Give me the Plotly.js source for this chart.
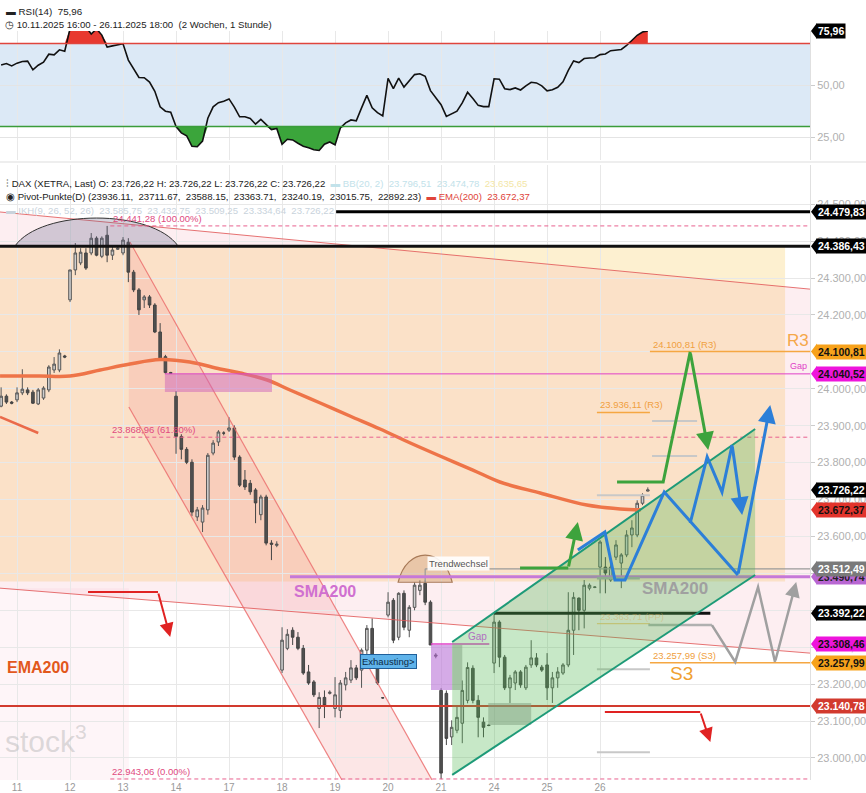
<!DOCTYPE html>
<html><head><meta charset="utf-8">
<script src="https://cdn.plot.ly/plotly-3.0.1.min.js"></script>
<style>html,body{margin:0;padding:0;background:#fff}#chart{width:866px;height:793px}</style>
</head><body><div id="chart"></div>
<script>
// ---- data ----
const dayLabels   = ['11','12','13','14','17','18','19','20','21','24','25','26'];
const dayStartBar = [3,13,23,33,43,53,63,73,83,93,103,113];

const open = [23953,23980,23964,23970,23989,23997,23991,23959,23975,23997,
 24051,24051,24089,24241,24322,24341,24368,24368,24408,24359,
 24416,24362,24378,24368,24397,24316,24268,24241,24249,24227,
 24154,24087,24044,23980,23871,23836,23801,23653,23639,23672,
 23826,23856,23880,23888,23894,23815,23753,23744,23726,23659,
 23707,23582,23576,23238,23297,23346,23327,23297,23233,23206,
 23134,23164,23175,23134,23129,23198,23211,23244,23238,23292,
 23351,23252,23163,23387,23427,23327,23446,23346,23408,23454,
 23473,23422,23279,23183,23175,23057,23075,23094,23156,23243,
 23156,23097,23089,23257,23368,23273,23190,23203,23233,23190,
 23252,23271,23246,23252,23190,23217,23230,23252,23346,23433,
 23400,23460,23462,23517,23517,23482,23544,23528,23550,23604,
 23604,23690,23723];
const high = [24004,23985,23967,24004,24053,24004,23997,24002,24007,24064,
 24086,24107,24092,24322,24395,24381,24381,24422,24413,24413,
 24441.28,24384,24384,24411,24408,24322,24273,24254,24254,24232,
 24178,24092,24046,23994,23877,23842,23809,23680,23685,23826,
 23861,23888,23885,23923,23901,23820,23780,23753,23731,23713,
 23713,23590,23587,23354,23349,23354,23341,23306,23252,23211,
 23178,23183,23183,23219,23211,23233,23265,23252,23297,23360,
 23378,23257,23165,23449,23433,23449,23454,23414,23476,23481,
 23481,23427,23284,23189,23183,23102,23143,23210,23259,23251,
 23170,23110,23091,23392.22,23373,23279,23225,23238,23238,23252,
 23319,23284,23252,23284,23233,23246,23257,23449,23449,23435,
 23482,23473,23465,23590,23544,23536,23590,23555,23617,23644,
 23698,23717,23733];
const low = [23950,23959,23958,23964,23983,23983,23959,23956,23970,23991,
 24043,24045,24083,24235,24308,24335,24322,24362,24359,24354,
 24343,24349,24376,24362,24289,24262,24200,24219,24219,24151,
 24079,24041,24041,23824,23809,23796,23655,23642,23612,23659,
 23820,23845,23874,23883,23807,23734,23726,23713,23636,23644,
 23576,23536,23571,23230,23292,23306,23292,23225,23198,23165,
 23081,23108,23172,23110,23108,23183,23203,23211,23190,23262,
 23262,23198,23160,23381,23311,23319,23346,23327,23400,23441,
 23414,23306,23270,22943.06,23035,23035,23067,23040,23148,23148,
 23056,23056,23086,23230,23246,23184,23149,23184,23190,23184,
 23244,23246,23233,23157,23149,23190,23225,23246,23279,23346,
 23351,23454,23460,23446,23446,23477,23536,23460,23544,23571,
 23598,23685,23722];
const close = [23980,23964,23961,23989,23999,23989,23961,23997,24002,24059,
 24067,24097,24086,24322,24368,24370,24327,24408,24362,24408,
 24362,24376,24381,24403,24316,24268,24214,24249,24227,24154,
 24079,24044,24042,23871,23836,23801,23666,23672,23677,23820,
 23853,23883,23880,23894,23815,23739,23734,23721,23691,23707,
 23582,23579,23579,23319,23335,23327,23297,23230,23203,23171,
 23164,23142,23178,23171,23203,23217,23244,23217,23292,23351,
 23265,23203,23163,23422,23319,23446,23354,23408,23468,23468,
 23422,23306,23276,22959,23053,23083,23110,23183,23245,23156,
 23110,23083,23088,23368,23273,23190,23217,23233,23198,23246,
 23271,23252,23238,23190,23217,23233,23252,23346,23435,23400,
 23468,23468,23463,23585,23501,23517,23577,23550,23604,23623,
 23690,23712,23726.22];

const rsi = [59.6,60.3,59.2,60.5,61.3,61.5,57.3,59.5,61,64.8,
 64.5,66.9,66.2,77,80,79,78,74.5,77,74,
 68.2,68.8,69.2,69.8,62,57.5,53.6,53.5,51.4,47,
 39.5,37.4,36.9,30,27,25.6,20.5,20.3,23,34,
 39.5,41.5,42.2,43.3,39.4,34.7,34.7,33.9,31.2,33.5,
 30.8,28.6,29.1,21.5,23.9,23.6,22,20.6,19.8,18.9,
 18.5,21.5,22.6,21.2,29.3,31.8,33.2,32.8,39,45,
 39,36.7,35.1,53.2,48.3,53.3,49,51.9,55,55.4,
 54.2,47.3,44,40.5,34.9,36.3,37.4,41.4,46.5,43.5,
 40.2,39.6,39.6,53,52.8,48.2,47.8,48.6,47.6,49.6,
 51.3,51,49.6,47.2,47.7,48.9,51.5,57,61.6,60.8,
 62.7,63,63.1,64.6,64.9,66.5,66.9,67.1,69,71.5,
 73.9,75.5,75.96];

const emaBar = [-0.2,7.3,13.0,18.7,24.3,30.0,35.6,41.3,45.1,50.2,54.5,60.2,65.8,71.5,77.2,82.8,89.0,94.1,101.7,110.5,116.8,120.7];
const emaVal = [24034.7,24034.7,24034.7,24051,24067.2,24079.4,24072.6,24053.7,24042.8,24023.9,23996.8,23961.6,23926.4,23891.2,23853.2,23818,23780,23747.6,23717.8,23685.3,23674.5,23672.37];

const priceTicks = [23000,23100,23200,23300,23400,23500,23600,23700,23800,23900,24000,24100,24200,24300,24400,24500];

const tagText  = ['24.479,83','24.386,43','24.100,81','24.040,52','23.726,22','23.672,37','23.490,74','23.512,49','23.392,22','23.308,46','23.257,99','23.140,78'];
const tagValue = [24479.83,24386.43,24100.81,24040.52,23726.22,23672.37,23490.74,23512.49,23392.22,23308.46,23257.99,23140.78];
const tagBg    = ['#000','#000','#f7a21b','#ee14dc','#000','#e2342c','#b866d2','#7a7a7a','#000','#ee14dc','#f7a21b','#d23a2e'];
const tagFg    = ['#fff','#fff','#111','#111','#fff','#111','#222','#fff','#fff','#111','#111','#fff'];

// ---- geometry ----
const XMIN=-0.21, XMAX=152.6;
const YMIN=22940.3, YMAX=24606.3;
const MAIN_DOM=[0,0.788462], RSI_DOM=[0.794872,0.960256];
const RMIN=13.94, RMAX=75.96;
const idx = open.map((_,i)=>i);
const FONT = 'Arial, "Liberation Sans", sans-serif';

const shapes=[], ann=[];
const L=(x0,y0,x1,y1,color,width,dash,layer)=>shapes.push({type:'line',xref:'x',yref:'y',x0,y0,x1,y1,line:{color,width,dash:dash||'solid'},layer:layer||'above'});
const R=(x0,y0,x1,y1,fill,layer)=>shapes.push({type:'rect',xref:'x',yref:'y',x0,y0,x1,y1,fillcolor:fill,line:{width:0},layer:layer||'above'});
const P=(pts,closed,fill,color,width,layer)=>shapes.push({type:'path',xref:'x',yref:'y',
  path:'M '+pts.map(p=>p[0]+','+p[1]).join(' L ')+(closed?' Z':''),
  fillcolor:fill||'rgba(0,0,0,0)',line:{color:color||'rgba(0,0,0,0)',width:width||0},layer:layer||'above'});
const T=(x,y,text,o)=>ann.push(Object.assign({x,y,xref:'x',yref:'y',text,showarrow:false,xanchor:'left',yanchor:'middle',font:{family:FONT,size:10,color:'#333'}},o||{}));
const ARR=(pts,color,width,hs)=>{ // polyline with arrow head at last point
  P(pts.slice(0,-1),false,null,color,width,'above');
  const a=pts[pts.length-2], b=pts[pts.length-1];
  ann.push({x:b[0],y:b[1],ax:a[0],ay:a[1],xref:'x',yref:'y',axref:'x',ayref:'y',showarrow:true,arrowhead:2,arrowsize:hs||1.2,arrowwidth:width,arrowcolor:color,text:'',standoff:0});
};

// backgrounds (below grid)
R(XMIN,23478,147.9,24386.43,'#fdf0d0','below');
P([[XMIN,24479],[XMAX,24270],[XMAX,23284],[XMIN,23460]],true,'rgba(238,120,150,0.13)',null,0,'below');
P([[24.1,24397.7],[81.3,YMIN],[64.3,YMIN],[24.1,23950.7]],true,'rgba(240,140,140,0.22)',null,0,'below');
R(-0.21,YMIN,24.1,23460,'rgba(238,120,150,0.07)','below');

// channel lines
L(XMIN,24479,XMAX,24270,'rgba(226,90,90,0.85)',1);
L(XMIN,23460,XMAX,23284,'rgba(226,90,90,0.85)',1);
L(24.3,24397.7,81.3,YMIN,'rgba(235,110,110,0.85)',1.2);
L(24.1,23950.7,64.3,YMIN,'rgba(235,110,110,0.85)',1.2);
L(XMIN,23923.7,7.0,23880.3,'#ea6a4a',2.5);

// dome top
shapes.push({type:'path',xref:'x',yref:'y',path:'M 2.6,24386.43 C 7.5,24488 28.5,24488 33.4,24386.43 Z',fillcolor:'rgba(100,100,135,0.28)',line:{color:'#333',width:1},layer:'above'});
// trendwechsel dome
shapes.push({type:'path',xref:'x',yref:'y',path:'M 74.9,23476 C 76.5,23574 83.5,23574 85.1,23476 Z',fillcolor:'rgba(200,150,110,0.35)',line:{color:'#a87a58',width:1.2},layer:'above'});

// levels
L(63.2,24479.83,XMAX,24479.83,'#000',3);
L(XMIN,24386.43,XMAX,24386.43,'#111',3);
L(20.6,24441.28,XMAX,24441.28,'#e8608e',1,'4px,3px');
L(20.6,23868.96,XMAX,23868.96,'#e8608e',1,'4px,3px');
L(20.6,22943.06,XMAX,22943.06,'#e8608e',1,'4px,3px');
L(122.4,24100.81,XMAX,24100.81,'#f5a742',1.5);
L(30.9,24040.52,XMAX,24040.52,'#e040c8',1);
R(30.9,23991.4,51.1,24040.52,'rgba(205,100,185,0.5)');
L(112.4,23936.11,122.4,23936.11,'#f5a742',1.5);
L(112.4,23711.67,122.4,23711.67,'#c8c8c8',2);
L(122.8,23912.8,131.3,23912.8,'#c8c8c8',2);
L(122.8,23818,131.3,23818,'#c8c8c8',2);
L(112.4,23363.71,122.4,23363.71,'#f5c070',1);
L(112.4,23240.19,122.4,23240.19,'#c8c8c8',2);
L(112.4,23015.75,122.4,23015.75,'#c8c8c8',2);
L(122.1,23360,134.1,23360,'#b0b0b0',2.5);
L(80.0,23512.49,XMAX,23512.49,'#9a9a9a',1.2);
L(80.0,23512.49,80.0,23476,'#9a9a9a',1.2);
L(54.5,23490.74,XMAX,23490.74,'#c678d8',3);
L(112.4,23487,120.5,23487,'#aaaaaa',2.5);
L(93.0,23392.22,133.8,23392.22,'#111',3);
L(122.4,23257.99,XMAX,23257.99,'#f5a742',1.5);
L(XMIN,23140.78,XMAX,23140.78,'#d23a2e',2);
L(81.1,23308.46,92.1,23308.46,'#e040c8',1.5);
R(81.1,23184.2,85.1,23306,'rgba(185,115,215,0.6)');
R(85.1,23184.2,87.0,23306,'rgba(150,150,150,0.5)');
R(91.9,23089.3,100.0,23149,'rgba(150,150,150,0.5)');

// green channel
P([[85.1,23314],[142.25,23891],[142.25,23495.6],[85.1,22954]],true,'rgba(80,185,80,0.32)',null,0,'above');
L(85.1,23314,142.25,23891,'#1e9a78',2);
L(85.1,22954,142.25,23495.6,'#1e9a78',2);

// arrows
ARR([[97.9,23514.6],[107.0,23514.6],[108.8,23639]],'#3da33d',3);
ARR([[116.2,23747.6],[124.9,23747.6],[130.0,24100],[133.4,23834]],'#3da33d',3);
ARR([[108.8,23563.4],[113.9,23612.1],[115.8,23482],[117.7,23482],[125.1,23720.5],[139.0,23495.6],[145.1,23956]],'#2c7fd8',3);
ARR([[130.0,23636.5],[133.2,23815.3],[136.0,23720.5],[137.9,23847.8],[139.8,23658.2]],'#2c7fd8',3);
ARR([[134.1,23360],[138.5,23260],[142.8,23463],[146.0,23260],[150.0,23476.6]],'#a0a0a0',2.5);
ARR([[16.4,23449.6],[29.6,23449.6],[31.9,23327.6]],'#e02222',2,1.4);
ARR([[113.9,23124.5],[131.9,23124.5],[133.8,23043.2]],'#e02222',2,1.4);

// texts in chart
const pink='#e04a80', orng='#f0a040';
T(20.8,24441.28,'24.441,28 (100.00%)',{yanchor:'bottom',font:{family:FONT,size:9.5,color:pink}});
T(20.6,23868.96,'23.868,96 (61.80%)',{yanchor:'bottom',font:{family:FONT,size:9.5,color:pink}});
T(20.6,22943.06,'22.943,06 (0.00%)',{yanchor:'bottom',font:{family:FONT,size:9.5,color:pink}});
T(122.6,24100.81,'24.100,81 (R3)',{yanchor:'bottom',font:{family:FONT,size:9.5,color:orng}});
T(112.6,23936.11,'23.936,11 (R3)',{yanchor:'bottom',font:{family:FONT,size:9.5,color:orng}});
T(122.6,23257.99,'23.257,99 (S3)',{yanchor:'bottom',font:{family:FONT,size:9.5,color:orng}});
T(112.6,23363.71,'23.363,71 (PP)',{yanchor:'bottom',font:{family:FONT,size:9.5,color:'rgba(215,170,90,0.45)'}});
T(147.9,24132,'R3',{font:{family:FONT,size:17,color:'#f5a84a'}});
T(125.8,23230,'S3',{font:{family:FONT,size:19,color:'#f0a030'}});
T(148.5,24061.8,'Gap',{font:{family:FONT,size:9,color:'#e040c8'}});
T(87.7,23327.7,'Gap',{font:{family:FONT,size:10,color:'#b070c0'}});
T(80.3,23528,'Trendwechsel',{bgcolor:'rgba(255,255,255,0.9)',font:{family:FONT,size:9.5,color:'#555'}});
T(73.0,23260,'Exhausting>',{xanchor:'center',bgcolor:'#5fb3ea',bordercolor:'#1f5f9a',borderwidth:1,borderpad:1,font:{family:FONT,size:9.5,color:'#0d2a45'}});
T(54.9,23452,'<b>SMA200</b>',{font:{family:FONT,size:16,color:'#d070d0'}});
T(120.5,23460,'<b>SMA200</b>',{font:{family:FONT,size:17,color:'#a0a0a0'}});
T(0.74,23246,'<b>EMA200</b>',{font:{family:FONT,size:16,color:'#e2581c'}});
T(0.3,23050,'stock<sup>3</sup>',{font:{family:FONT,size:30,color:'rgba(190,190,190,0.55)'}});

// headers (paper coords)
const H=(px,py,text,size)=>ann.push({xref:'paper',yref:'paper',x:px/810,y:(780-py)/780,xanchor:'left',yanchor:'middle',showarrow:false,text,font:{family:FONT,size:size||10,color:'#222'}});
H(4,12,'<b>▬</b> RSI(14)  75,96',9.8);
H(3,25,'◷ 10.11.2025 16:00 - 26.11.2025 18:00  (2 Wochen, 1 Stunde)',9.6);
H(4,183,'⫶ DAX (XETRA, Last) O: 23.726,22 H: 23.726,22 L: 23.726,22 C: 23.726,22  <span style="color:#c2e2ea">▬ BB(20, 2)  23.796,51  23.474,78</span>  <span style="color:#f3e6a6">23.635,65</span>',9.6);
H(4,196,'◉ Pivot-Punkte(D) (23936.11,  23711.67,  23588.15,  23363.71,  23240.19,  23015.75,  22892.23)  <span style="color:#e0443a">▬ EMA(200)  23.672,37</span>',9.6);
H(4,210,'<span style="color:#c9d3dc">▬ IKH(9, 26, 52, 26)  23.585,75  23.432,75  23.509,25  23.334,64  23.726,22</span>',9.6);

// RSI decorations
shapes.push({type:'rect',xref:'paper',yref:'y2',x0:0,x1:1,y0:30,y1:70,fillcolor:'#dce9f6',line:{width:0},layer:'below'});
shapes.push({type:'line',xref:'paper',yref:'y2',x0:0,x1:1,y0:70,y1:70,line:{color:'#e0453c',width:1.5}});
shapes.push({type:'line',xref:'paper',yref:'y2',x0:0,x1:1,y0:30,y1:30,line:{color:'#3a9c3a',width:1.5}});
shapes.push({type:'line',xref:'paper',yref:'paper',x0:0,x1:1.07,y0:(780-162)/780,y1:(780-162)/780,line:{color:'#dddddd',width:1}});

// right tags
const yMainPaper=v=>MAIN_DOM[0]+(MAIN_DOM[1]-MAIN_DOM[0])*(v-YMIN)/(YMAX-YMIN);
const yRsiPaper=v=>RSI_DOM[0]+(RSI_DOM[1]-RSI_DOM[0])*(v-RMIN)/(RMAX-RMIN);
function tag(text,v,bg,fg,yref,yp){
  shapes.push({type:'path',xref:'paper',yref:'paper',xsizemode:'pixel',ysizemode:'pixel',xanchor:1,yanchor:yp,path:'M 1,0 L 7,8 L 7,-8 Z',fillcolor:bg,line:{width:0},layer:'above'});
  ann.push({xref:'paper',yref:yref,x:1,y:v,xanchor:'left',yanchor:'middle',xshift:6,showarrow:false,text:'<b>'+text+'</b>',bgcolor:bg,borderpad:1,font:{family:FONT,size:10.5,color:fg}});
}
tagText.forEach((t,i)=>tag(t,tagValue[i],tagBg[i],tagFg[i],'y',yMainPaper(tagValue[i])));
tag('75,96',75.96,'#000','#fff','y2',yRsiPaper(75.96));

// ---- traces ----
const traces=[
 {type:'candlestick',x:idx,open,high,low,close,xaxis:'x',yaxis:'y',
  increasing:{line:{color:'#555',width:1},fillcolor:'#cfcfcf'},
  decreasing:{line:{color:'#444',width:1},fillcolor:'#505050'},whiskerwidth:0,hoverinfo:'skip'},
 {type:'scatter',mode:'lines',x:emaBar,y:emaVal,line:{color:'#ee7448',width:3.5,shape:'spline'},xaxis:'x',yaxis:'y',hoverinfo:'skip'},
 {type:'scatter',mode:'lines',x:idx,y:idx.map(()=>70),line:{width:0},xaxis:'x',yaxis:'y2',hoverinfo:'skip'},
 {type:'scatter',mode:'lines',x:idx,y:rsi.map(v=>Math.max(v,70)),fill:'tonexty',fillcolor:'#e8392f',line:{width:0},xaxis:'x',yaxis:'y2',hoverinfo:'skip'},
 {type:'scatter',mode:'lines',x:idx,y:idx.map(()=>30),line:{width:0},xaxis:'x',yaxis:'y2',hoverinfo:'skip'},
 {type:'scatter',mode:'lines',x:idx,y:rsi.map(v=>Math.min(v,30)),fill:'tonexty',fillcolor:'#3ba53b',line:{width:0},xaxis:'x',yaxis:'y2',hoverinfo:'skip'},
 {type:'scatter',mode:'lines',x:idx,y:rsi,line:{color:'#111',width:1.6},xaxis:'x',yaxis:'y2',hoverinfo:'skip'}
];

const layout={
 width:866,height:793,margin:{l:0,r:56,t:0,b:13},
 paper_bgcolor:'#fff',plot_bgcolor:'#fff',showlegend:false,separators:',.',
 font:{family:FONT,size:10,color:'#333'},
 xaxis:{range:[XMIN,XMAX],tickvals:dayStartBar,ticktext:dayLabels,showgrid:true,gridcolor:'#e8e8e8',zeroline:false,showline:false,ticks:'',
   tickfont:{family:FONT,size:10,color:'#9a9a9a'},rangeslider:{visible:false},anchor:'y',fixedrange:true},
 yaxis:{domain:MAIN_DOM,range:[YMIN,YMAX],side:'right',tickvals:priceTicks,tickformat:',.2f',tickfont:{family:FONT,size:11,color:'#b0b0b0'},
   gridcolor:'#e8e8e8',zeroline:false,ticks:'outside',ticklen:4,tickcolor:'#cccccc',showline:true,linecolor:'#e0e0e0',fixedrange:true},
 yaxis2:{domain:RSI_DOM,range:[RMIN,RMAX],side:'right',anchor:'x',tickvals:[25,50],tickformat:'.2f',tickfont:{family:FONT,size:11,color:'#b0b0b0'},
   gridcolor:'#e4e4e4',zeroline:false,ticks:'outside',ticklen:4,tickcolor:'#cccccc',showline:true,linecolor:'#e0e0e0',fixedrange:true},
 shapes,annotations:ann
};
Plotly.newPlot('chart',traces,layout,{displayModeBar:false,staticPlot:true});
</script></body></html>
